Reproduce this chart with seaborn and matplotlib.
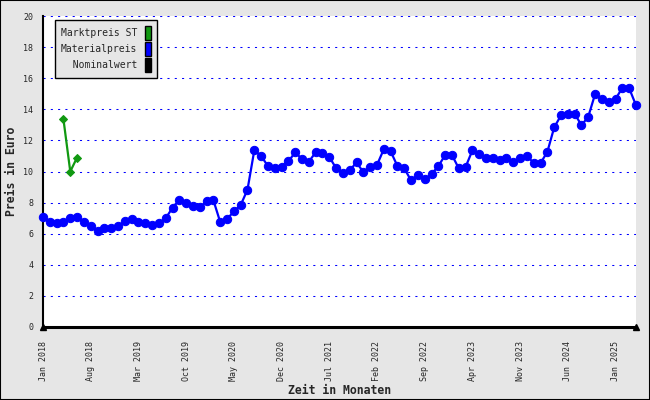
import numpy as np
import pandas as pd
import matplotlib
matplotlib.use('Agg')
import matplotlib.pyplot as plt
from matplotlib.patches import Patch, Rectangle
import seaborn as sns

# monthly values, Jan 2018 .. Apr 2025
months = pd.date_range("2018-01-01", periods=88, freq="MS").strftime("%b %Y").tolist()
material = [7.09, 6.75, 6.69, 6.75, 6.99, 7.09, 6.73, 6.50, 6.15, 6.37,
            6.37, 6.50, 6.80, 6.93, 6.74, 6.67, 6.54, 6.67, 6.99, 7.67,
            8.15, 7.97, 7.76, 7.70, 8.08, 8.15, 6.75, 6.93, 7.44, 7.84,
            8.83, 11.36, 11.00, 10.35, 10.20, 10.29, 10.65, 11.23, 10.80, 10.63,
            11.23, 11.17, 10.93, 10.22, 9.90, 10.07, 10.59, 9.95, 10.27, 10.42,
            11.43, 11.30, 10.35, 10.20, 9.43, 9.75, 9.50, 9.84, 10.34, 11.06,
            11.06, 10.20, 10.29, 11.36, 11.12, 10.85, 10.85, 10.72, 10.85, 10.59,
            10.85, 11.00, 10.55, 10.54, 11.27, 12.84, 13.61, 13.72, 13.72, 12.97,
            13.53, 14.98, 14.66, 14.47, 14.66, 15.39, 15.35, 14.26]
markt_months = ["Apr 2018", "May 2018", "Jun 2018"]
markt = [13.36, 10.00, 10.90]
xtick_labels = ["Jan 2018", "Aug 2018", "Mar 2019", "Oct 2019", "May 2020", "Dec 2020",
                "Jul 2021", "Feb 2022", "Sep 2022", "Apr 2023", "Nov 2023", "Jun 2024",
                "Jan 2025"]
yticks = [0, 2, 4, 6, 8, 10, 12, 14, 16, 18, 20]
legend_labels = ["Marktpreis ST", "Materialpreis", "Nominalwert"]

BG = "#e6e6e6"
BLUE = "#0000ff"
GREEN = "#119911"

df_mat = pd.DataFrame({"idx": range(len(material)), "preis": material})
df_mkt = pd.DataFrame({"idx": [months.index(m) for m in markt_months], "preis": markt})

sns.set_style("white")
plt.rcParams['font.family'] = ['DejaVu Sans Mono', 'DejaVu Sans']

fig = plt.figure(figsize=(6.5, 4), dpi=100, facecolor=BG)
ax = fig.add_axes([43 / 650, 73 / 400, 593 / 650, 311 / 400])
ax.set_facecolor("white")

for v in yticks[1:]:
    ax.axhline(v, color=BLUE, lw=0.75, ls=(0, (2, 5)), zorder=1)

sns.lineplot(data=df_mat, x="idx", y="preis", ax=ax, color=BLUE, lw=1.6,
             marker="o", markersize=6, markeredgecolor=BLUE, zorder=3, clip_on=False)
sns.lineplot(data=df_mkt, x="idx", y="preis", ax=ax, color=GREEN, lw=1.6,
             marker="D", markersize=4, markeredgecolor=GREEN, zorder=3)

ax.set_xlim(0, len(material) - 1)
ax.set_ylim(0, 20)
ax.set_yticks(yticks)
ax.set_yticklabels([str(v) for v in yticks], fontsize=6)
ax.tick_params(axis="y", direction="out", length=4, width=1, pad=3, color="black")

ax.set_xticks([months.index(m) for m in xtick_labels])
ax.set_xticklabels(xtick_labels, rotation=90, fontsize=6, va="top")
ax.set_xticks(range(0, len(material), 3), minor=True)
ax.tick_params(axis="x", which="major", length=0, pad=10)
ax.tick_params(axis="x", which="minor", direction="inout", length=8, width=1, color="black")

for s in ["top", "right"]:
    ax.spines[s].set_visible(False)
ax.spines["left"].set_linewidth(1.5)
ax.spines["bottom"].set_linewidth(2.2)
ax.spines["left"].set_color("black")
ax.spines["bottom"].set_color("black")
ax.plot([0, 1], [0, 0], "^", color="black", markersize=5, transform=ax.transAxes,
        clip_on=False, zorder=5)

ax.set_xlabel("Zeit in Monaten", fontsize=8.3, fontweight="bold", labelpad=2)
ax.set_ylabel("Preis in Euro", fontsize=8.3, fontweight="bold", labelpad=4)

# monospace font: pad with spaces so the labels sit right-aligned
width = max(len(s) for s in legend_labels)
handles = [Patch(facecolor=GREEN, edgecolor="black"),
           Patch(facecolor=BLUE, edgecolor="black"),
           Patch(facecolor="black", edgecolor="black")]
leg = ax.legend(handles, [s.rjust(width) for s in legend_labels], loc="upper left",
                bbox_to_anchor=(0.02, 0.987), borderaxespad=0, markerfirst=False,
                fontsize=7, handlelength=0.65, handleheight=1.85, handletextpad=0.8,
                labelspacing=0.2, borderpad=0.6, fancybox=False, framealpha=1,
                facecolor=BG, edgecolor="black")
leg.get_frame().set_linewidth(1)

fig.patches.append(Rectangle((0, 0), 1, 1, transform=fig.transFigure, fill=False,
                             edgecolor="black", lw=1.5))

fig.savefig("out.png", dpi=100, facecolor=BG)
